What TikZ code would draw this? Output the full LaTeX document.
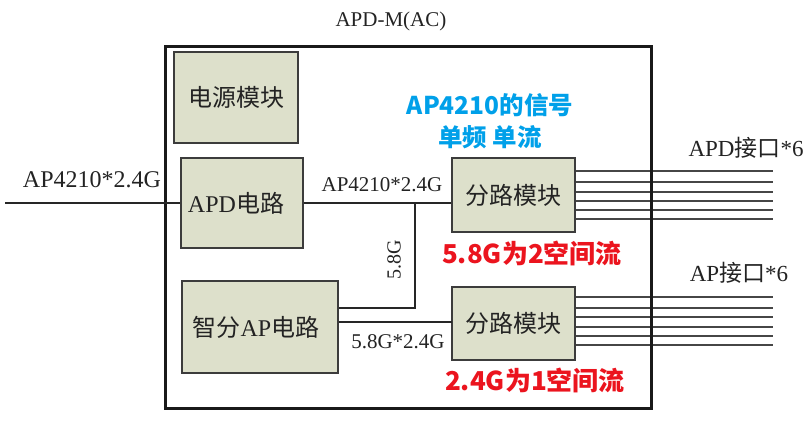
\documentclass[tikz,border=0pt]{standalone}
\usepackage{fontspec}
\setmainfont{Liberation Serif}
\newfontfamily\cjk{Noto Sans CJK SC}
\definecolor{boxfill}{RGB}{221,224,203}
\definecolor{boxline}{RGB}{60,60,60}
\definecolor{txt}{RGB}{35,35,35}
\definecolor{wire}{RGB}{70,70,70}
\definecolor{bluetxt}{RGB}{0,160,233}
\definecolor{redtxt}{RGB}{235,20,30}
\begin{document}
\begin{tikzpicture}[x=1pt,y=-1pt,
  modbox/.style={draw=boxline,line width=1.4pt,fill=boxfill,inner sep=0pt,text=txt,font=\fontsize{24}{26}\selectfont},
  lab/.style={text=txt,inner sep=0pt},
  wireline/.style={draw=black!85,line width=1.8pt},
  outline/.style={draw=wire,line width=1.4pt},
  note/.style={inner sep=0pt,font=\cjk\bfseries\fontsize{24.5}{28}\selectfont},
  rednote/.style={note,text=redtxt,font=\cjk\bfseries\fontsize{26}{28}\selectfont}]
\useasboundingbox (0,0) rectangle (809,421);
% title
\node[lab,font=\fontsize{21}{24}\selectfont] (title) at (391,21) {APD-M(AC)};
% modules
\node[modbox,minimum width=124pt,minimum height=91pt] (pwr) at (236,97.5) {\cjk 电源模块};
\node[modbox,minimum width=122pt,minimum height=90pt] (apd) at (242,203) {\hspace*{-12pt}APD{\cjk 电路}};
\node[modbox,minimum width=156pt,minimum height=92pt] (ap) at (260,327) {\hspace*{-8pt}{\cjk 智分}AP{\cjk 电路}};
\node[modbox,minimum width=123pt,minimum height=74pt] (sp1) at (513.5,195) {\cjk 分路模块};
\node[modbox,minimum width=123pt,minimum height=73pt] (sp2) at (513.5,323.5) {\cjk 分路模块};
% output lines
\foreach \y in {171,182,192,201,210,219}{
  \draw[outline] (sp1.east |- 0,\y) -- (773,\y);}
\foreach \y in {297,308,317,327,336,345}{
  \draw[outline] (sp2.east |- 0,\y) -- (773,\y);}
% outer box
\node[draw=black!90,line width=3pt,minimum width=486pt,minimum height=362pt,inner sep=0pt] (outer) at (408,227) {};
% connectors
\coordinate (in) at (5,203);
\coordinate (j) at (415,203);
\coordinate (k) at (415,308);
\coordinate (m) at (452,322);
\draw[wireline] (in) -- (apd.west);
\draw[wireline] (apd.east) -- (apd.east -| sp1.west);
\draw[wireline] (j) -- (k) -- (k -| ap.east);
\draw[wireline] (m) -- (m -| ap.east);
% labels
\node[lab,font=\fontsize{24}{26}\selectfont] (inlab) at (92,180) {AP4210*2.4G};
\node[lab,font=\fontsize{21}{24}\selectfont] (midlab) at (382,185) {AP4210*2.4G};
\node[lab,font=\fontsize{21}{24}\selectfont] (lowlab) at (398,342) {5.8G*2.4G};
\node[lab,font=\fontsize{20}{22}\selectfont,rotate=90] (vlab) at (394,260) {5.8G};
\node[lab,font=\fontsize{23}{26}\selectfont] (apdport) at (746,148) {APD{\cjk 接口}*6};
\node[lab,font=\fontsize{23}{26}\selectfont] (apport) at (739,273) {AP{\cjk 接口}*6};
% notes
\node[note,text=bluetxt] (b1) at (490,105) {AP4210的信号};
\node[note,text=bluetxt] (b2) at (490,137) {单频 单流};
\node[rednote] (r1) at (532,253) {5.8G为2空间流};
\node[rednote] (r2) at (535,380) {2.4G为1空间流};
\end{tikzpicture}
\end{document}
